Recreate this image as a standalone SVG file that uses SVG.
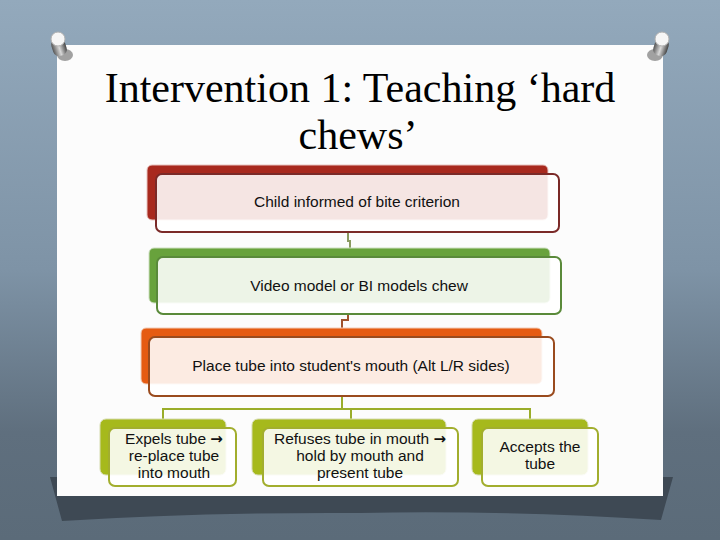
<svg xmlns="http://www.w3.org/2000/svg" width="720" height="540" viewBox="0 0 720 540">
<defs>
<linearGradient id="bg" x1="0" y1="0" x2="0" y2="1">
<stop offset="0" stop-color="#93a9bc"/>
<stop offset="0.5" stop-color="#7e93a6"/>
<stop offset="0.8" stop-color="#5f6f7e"/>
<stop offset="1" stop-color="#5b6b79"/>
</linearGradient>
<linearGradient id="pin" x1="0" y1="0" x2="1" y2="0">
<stop offset="0" stop-color="#555"/>
<stop offset="0.5" stop-color="#d8d8d8"/>
<stop offset="1" stop-color="#444"/>
</linearGradient>
<style>
.t{font-family:"Liberation Sans",Arial,sans-serif;font-size:15.5px;fill:#111;text-anchor:middle}
.ar{font-family:"DejaVu Sans",sans-serif;font-weight:bold;font-size:15px}
.ttl{font-family:"Liberation Serif","Times New Roman",serif;font-size:42px;fill:#000;text-anchor:middle}
.front{stroke-width:2}
.lime{fill:#a6b91c;stroke:#d6dcb0;stroke-width:1}
.limef{fill:#ffffff;fill-opacity:0.88;stroke:#a2ae2e;stroke-width:2}
.conn{fill:none;stroke-width:2}
</style>
</defs>
<rect width="720" height="540" fill="url(#bg)"/>
<path d="M50,477 L673,477 L661,520 Q500,510 360,513 Q200,512 62,521 Z" fill="#3e4954"/>
<rect x="57" y="45" width="606" height="451" fill="#fcfcfc"/>
<g id="pin-left">
<ellipse cx="65" cy="55" rx="8" ry="6" fill="#333" opacity="0.45"/>
<rect x="52" y="38" width="14" height="18" rx="6" fill="url(#pin)" transform="rotate(-18 59 47)"/>
<circle cx="58" cy="39" r="7" fill="#f6f6f6" stroke="#b0b0b0" stroke-width="1"/>
</g>
<g id="pin-right">
<ellipse cx="655" cy="55" rx="8" ry="6" fill="#333" opacity="0.45"/>
<rect x="654" y="38" width="14" height="18" rx="6" fill="url(#pin)" transform="rotate(18 661 47)"/>
<circle cx="662" cy="39" r="7" fill="#f6f6f6" stroke="#b0b0b0" stroke-width="1"/>
</g>
<g id="title">
<text class="ttl" x="360" y="102">Intervention 1: Teaching ‘hard</text>
<text class="ttl" x="358" y="149">chews’</text>
</g>
<g id="connectors">
<path class="conn" stroke="#8a9a60" d="M348,232 V241 H350 V248"/>
<path class="conn" stroke="#a0522d" d="M348,314 V320 H342 V328"/>
<path class="conn" stroke="#9aad2a" d="M342,396 V409 M163,409 H530 M163,408 V419 M351,408 V419 M530,408 V419"/>
</g>
<g id="node1">
<rect x="147" y="165" width="401" height="55" rx="5" fill="#a8291e" stroke="#e8c4c0" stroke-width="1"/>
<rect class="front" x="156" y="174" width="403" height="58" rx="6" fill="#ffffff" fill-opacity="0.88" stroke="#7b2a28"/>
<text class="t" x="357" y="207">Child informed of bite criterion</text>
</g>
<g id="node2">
<rect x="149" y="248" width="401" height="55" rx="5" fill="#68a23c" stroke="#cfe0c2" stroke-width="1"/>
<rect class="front" x="157" y="257" width="404" height="57" rx="6" fill="#ffffff" fill-opacity="0.88" stroke="#5a8a3a"/>
<text class="t" x="359" y="291">Video model or BI models chew</text>
</g>
<g id="node3">
<rect x="141" y="328" width="401" height="56" rx="5" fill="#e55b12" stroke="#f2cdb8" stroke-width="1"/>
<rect class="front" x="149" y="337" width="405" height="59" rx="6" fill="#ffffff" fill-opacity="0.88" stroke="#9a4b1e"/>
<text class="t" x="351" y="371">Place tube into student's mouth (Alt L/R sides)</text>
</g>
<g id="node4">
<rect class="lime" x="100" y="419" width="126" height="56" rx="6"/>
<rect class="limef" x="109" y="428" width="127" height="58" rx="6"/>
<text class="t" x="174" y="444">Expels tube <tspan class="ar">→</tspan></text>
<text class="t" x="174" y="461">re-place tube</text>
<text class="t" x="174" y="478">into mouth</text>
</g>
<g id="node5">
<rect class="lime" x="252" y="419" width="194" height="56" rx="6"/>
<rect class="limef" x="263" y="428" width="195" height="58" rx="6"/>
<text class="t" x="360" y="444">Refuses tube in mouth <tspan class="ar">→</tspan></text>
<text class="t" x="360" y="461">hold by mouth and</text>
<text class="t" x="360" y="478">present tube</text>
</g>
<g id="node6">
<rect class="lime" x="472" y="419" width="116" height="56" rx="6"/>
<rect class="limef" x="482" y="428" width="116" height="58" rx="6"/>
<text class="t" x="540" y="452">Accepts the</text>
<text class="t" x="540" y="469">tube</text>
</g>
</svg>
